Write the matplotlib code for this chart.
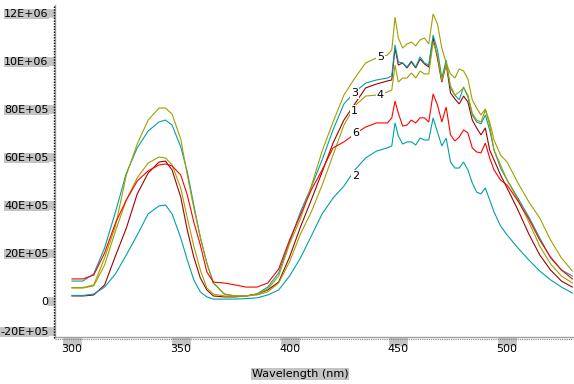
import numpy as np
import matplotlib
matplotlib.use("Agg")
import matplotlib.pyplot as plt
from matplotlib.lines import Line2D

# ---------------- data (intensity in thousands of counts) ----------------
wavelength = [300, 305, 310, 315, 320, 325, 330, 335, 340, 343, 346, 350, 353, 356, 359, 362,
              365, 370, 375, 380, 385, 390, 395, 400, 405, 410, 415, 420, 425, 430, 435, 440,
              445, 447, 448.5, 450, 452, 454, 456, 458, 460, 462, 464, 466, 468, 470, 472, 474,
              476, 478, 480, 482, 484, 486, 488, 490, 492, 494, 497, 500, 505, 510, 515, 520,
              525, 530]

s1 = [21, 21, 25, 67, 188, 304, 446, 533, 579, 583, 546, 433, 296, 183, 96, 46,
      21, 17, 17, 21, 29, 46, 79, 183, 308, 421, 538, 658, 754, 821, 888, 904,
      917, 921, 1054, 983, 992, 971, 996, 971, 1008, 988, 975, 1096, 1012, 912, 988, 867,
      842, 821, 854, 829, 754, 721, 692, 721, 629, 588, 525, 471, 379, 279, 192, 129,
      83, 58]

s2 = [23, 23, 29, 58, 113, 192, 275, 363, 396, 400, 363, 263, 171, 88, 38, 17,
      8, 8, 8, 10, 13, 25, 46, 104, 179, 271, 363, 429, 479, 546, 596, 625,
      638, 646, 742, 688, 654, 663, 663, 650, 679, 671, 671, 763, 704, 646, 679, 579,
      554, 554, 579, 546, 492, 454, 446, 471, 421, 371, 313, 275, 221, 171, 125, 88,
      58, 33]

s3 = [83, 83, 113, 221, 371, 533, 638, 708, 746, 754, 733, 642, 538, 400, 263, 158,
      75, 29, 21, 21, 29, 58, 117, 246, 371, 475, 588, 713, 821, 871, 908, 921,
      929, 938, 1067, 996, 992, 975, 1000, 975, 1017, 992, 983, 1108, 1046, 929, 1004, 888,
      858, 838, 892, 850, 775, 746, 738, 775, 713, 629, 554, 504, 429, 350, 263, 179,
      129, 104]

s4 = [54, 54, 63, 150, 292, 421, 513, 575, 600, 596, 567, 471, 346, 229, 129, 54,
      29, 21, 21, 21, 25, 38, 75, 163, 279, 371, 483, 608, 733, 813, 854, 858,
      871, 879, 983, 912, 929, 929, 950, 929, 958, 946, 946, 1079, 1025, 917, 988, 896,
      858, 871, 888, 858, 783, 754, 746, 796, 733, 629, 567, 504, 421, 329, 229, 154,
      104, 75]

s5 = [56, 56, 67, 179, 313, 525, 654, 754, 804, 804, 779, 675, 525, 388, 267, 158,
      75, 29, 21, 21, 29, 50, 104, 238, 342, 479, 625, 746, 858, 929, 992, 1013,
      1025, 1046, 1183, 1096, 1054, 1071, 1079, 1063, 1088, 1096, 1071, 1196, 1154, 1054, 992, 946,
      929, 967, 958, 925, 838, 804, 775, 800, 746, 671, 608, 579, 492, 413, 346, 254,
      179, 125]

s6 = [92, 92, 108, 200, 325, 421, 500, 542, 567, 571, 563, 525, 442, 329, 233, 121,
      79, 75, 67, 58, 58, 75, 133, 254, 358, 463, 546, 638, 663, 696, 725, 742,
      742, 763, 833, 783, 729, 733, 754, 742, 763, 763, 746, 863, 817, 746, 808, 692,
      667, 683, 713, 700, 638, 621, 617, 658, 596, 546, 504, 483, 417, 342, 254, 183,
      129, 92]

series_names = ["1", "2", "3", "4", "5", "6"]
series_colors = ["#a00000", "#00a0a8", "#00a0a8", "#a0a000", "#a0a000", "#ff0000"]

label_wl = [429.8, 430.3, 429.8, 441.7, 441.7, 430.3]
label_val = [791667, 520833, 866667, 858333, 1016667, 700000]

xticks = [300, 350, 400, 450, 500]
xtick_labels = ["300", "350", "400", "450", "500"]
yticks = [-125000, 0, 200000, 400000, 600000, 800000, 1000000, 1200000]
ytick_labels = ["-20E+05", "0", "20E+05", "40E+05", "60E+05", "80E+05", "10E+06", "12E+06"]

# ---------------- figure ----------------
W, H = 574, 384
fig = plt.figure(figsize=(W / 100, H / 100), dpi=100)
L, R, T, B = 55, 573, 5, 337
ax = fig.add_axes([L / W, 1 - B / H, (R - L) / W, (B - T) / H])

wl = np.array(wavelength)
all_series = [s1, s2, s3, s4, s5, s6]
order = [1, 2, 0, 3, 4, 5]
for i in order:
    ax.plot(wl, np.array(all_series[i]) * 1000.0, color=series_colors[i], lw=0.8,
            solid_joinstyle="miter", zorder=2 + i * 0.1)

for name, x, y in zip(series_names, label_wl, label_val):
    ax.text(x, y, name, fontsize=8, ha="center", va="center", zorder=6,
            bbox=dict(facecolor="white", edgecolor="none", pad=0.6))

ax.set_xlim(292.2, 530.3)
ax.set_ylim(-150000, 1233333)

for sp in ["top", "right"]:
    ax.spines[sp].set_visible(False)
ax.spines["left"].set_color("#a0a0a0")
ax.spines["bottom"].set_color("#a0a0a0")
ax.spines["left"].set_linewidth(1.0)
ax.spines["bottom"].set_linewidth(1.0)

ax.set_xticks(xticks)
ax.set_xticklabels(xtick_labels, fontsize=8)
ax.set_yticks(yticks)
ax.set_yticklabels(ytick_labels, fontsize=8)
ax.tick_params(axis="y", direction="out", length=5.8, width=6.3, color="#c4c4c4", pad=-1.2)
ax.tick_params(axis="x", direction="out", length=6.2, width=13.5, color="#c4c4c4", pad=-1.5)

for lbl, txt in zip(ax.get_yticklabels(), ytick_labels):
    if txt != "0":
        lbl.set_bbox(dict(facecolor="#c4c4c4", edgecolor="none", pad=0.3))

# dotted axis lines
fig.add_artist(Line2D([54 / W, 54 / W], [1 - 338 / H, 1 - 5 / H], transform=fig.transFigure,
                      color="black", lw=1.0, linestyle=(0, (1, 1))))
fig.add_artist(Line2D([55 / W, 573 / W], [1 - 339 / H, 1 - 339 / H], transform=fig.transFigure,
                      color="#808080", lw=0.8, linestyle=(0, (1, 1))))

fig.text(300 / W, 1 - 374 / H, "Wavelength (nm)", fontsize=8, ha="center", va="center",
         bbox=dict(facecolor="#c4c4c4", edgecolor="none", pad=0.8))

fig.savefig("out.png", dpi=100)
